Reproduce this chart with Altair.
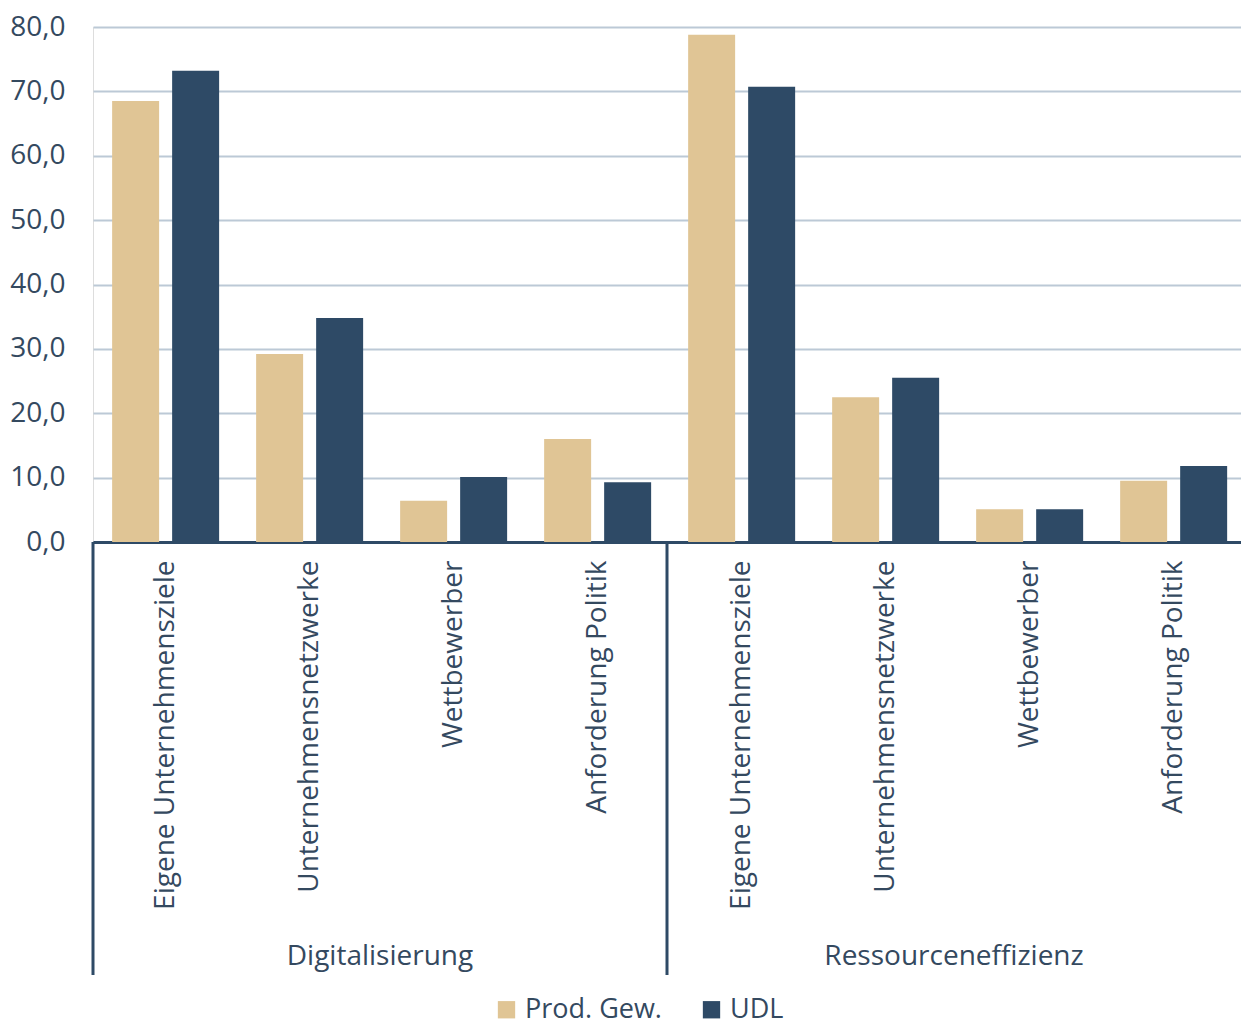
import altair as alt
import pandas as pd

groups = ["Digitalisierung", "Ressourceneffizienz"]
categories = ["Eigene Unternehmensziele", "Unternehmensnetzwerke", "Wettbewerber", "Anforderung Politik"]
series = ["Prod. Gew.", "UDL"]
prod_gew = [68.5, 29.2, 6.4, 16.0, 78.8, 22.5, 5.1, 9.5]
udl = [73.2, 34.8, 10.1, 9.3, 70.7, 25.5, 5.1, 11.8]

colors = ["#E0C595", "#2E4A66"]
text_color = "#34495F"
font = "Open Sans"

rows = []
keys = []
for gi, g in enumerate(groups):
    for ci, c in enumerate(categories):
        k = f"{gi}{ci}|{c}"
        keys.append(k)
        idx = gi * len(categories) + ci
        rows.append({"key": k, "series": series[0], "value": prod_gew[idx]})
        rows.append({"key": k, "series": series[1], "value": udl[idx]})
df = pd.DataFrame(rows)

n_cat = len(categories)
grp_df = pd.DataFrame({"group": groups, "pos": [gi * n_cat + n_cat / 2 for gi in range(len(groups))]})
sep_df = pd.DataFrame({"pos": [gi * n_cat for gi in range(len(groups))]})

W, H = 1148, 515

bars = alt.Chart(df).mark_bar().encode(
    x=alt.X("key:N", sort=keys, title=None,
            scale=alt.Scale(paddingInner=0.257, paddingOuter=0.1145, align=0.58),
            axis=alt.Axis(labelAngle=-90, labelExpr="split(datum.label,'|')[1]",
                          labelFont=font, labelFontSize=28, labelColor=text_color,
                          labelPadding=18, ticks=False, domainColor="#2E4A66",
                          domainWidth=3, grid=False, labelLimit=600)),
    xOffset=alt.XOffset("series:N", sort=series, scale=alt.Scale(paddingInner=0.217, paddingOuter=0)),
    y=alt.Y("value:Q", title=None, scale=alt.Scale(domain=[0, 80]),
            axis=alt.Axis(values=list(range(0, 81, 10)), domain=False, ticks=False,
                          labelExpr="replace(format(datum.value,'.1f'),'.',',')",
                          labelFont=font, labelFontSize=28, labelColor=text_color,
                          labelPadding=28, gridColor="#BCC9D6", gridWidth=2)),
    color=alt.Color("series:N", sort=series, scale=alt.Scale(domain=series, range=colors),
                    legend=alt.Legend(title=None, orient="none", legendX=400, legendY=969,
                                      direction="horizontal", symbolType="square",
                                      symbolSize=300, symbolStrokeWidth=0,
                                      labelFont=font, labelFontSize=27, labelColor=text_color,
                                      columnPadding=36, symbolOffset=0, labelOffset=5)),
)

xq = alt.Scale(domain=[0, len(groups) * n_cat])

seps = alt.Chart(sep_df).mark_rule(color="#2E4A66", strokeWidth=3).encode(
    x=alt.X("pos:Q", scale=xq, axis=None),
    y=alt.value(H),
    y2=alt.value(948),
)

glabels = alt.Chart(grp_df).mark_text(font=font, fontSize=28, color=text_color, baseline="middle").encode(
    x=alt.X("pos:Q", scale=xq, axis=None),
    y=alt.value(930),
    text="group:N",
)

chart = alt.layer(bars, seps, glabels).resolve_scale(x="independent").properties(
    width=W, height=H,
    autosize=alt.AutoSizeParams(type="none"),
    padding={"left": 93, "top": 27, "right": 0, "bottom": 486},
).configure_view(stroke=None).configure(background="white")

chart.save("out.html", embed_options={"renderer": "svg", "actions": False})
